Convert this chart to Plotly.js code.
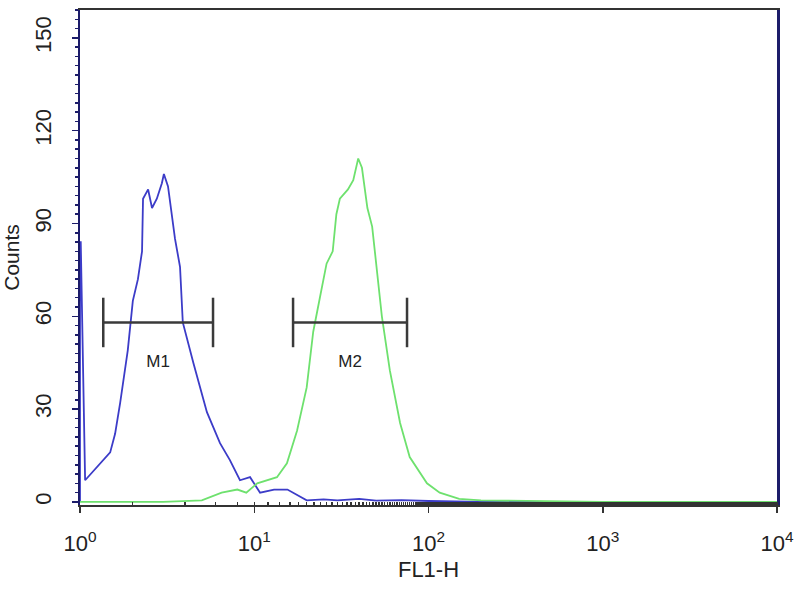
<!DOCTYPE html>
<html>
<head>
<meta charset="utf-8">
<script src="https://cdn.plot.ly/plotly-3.0.1.min.js"></script>
<style>html,body{margin:0;padding:0;background:#fff;}#chart{width:800px;height:600px;}</style>
</head>
<body>
<div id="chart"></div>
<script>
// Control (blue) histogram
const blueX = [1, 1, 1.01, 1.07, 1.49, 1.59, 1.70, 1.88, 2.01, 2.15, 2.27, 2.30, 2.46, 2.59, 2.76, 2.95, 3.03, 3.20, 3.51, 3.75, 3.89, 4.47, 5.35, 6.36, 7.25, 8.28, 9.46, 10.8, 13.0, 15.5, 18.0, 20.0, 25, 30, 40, 50, 70, 100, 200, 500, 1000, 10000];
const blueY = [0, 84, 84, 7, 16, 22, 32, 49, 65, 72, 81, 98, 101, 95, 98, 103, 106, 102, 85, 76, 58, 45, 29, 19, 13.5, 7, 8, 3, 4, 4, 2, 0.5, 0.8, 0.5, 1, 0.4, 0.6, 0.3, 0, 0, 0, 0];
// Stained (green) histogram
const greenX = [1, 3, 5, 6.5, 8, 9, 10.4, 13.5, 15.4, 17.6, 20, 21.8, 23.8, 26, 28.2, 29.6, 31, 34.5, 37, 39.5, 41.5, 44.6, 47.5, 50.5, 54, 60, 68.7, 78, 98, 116, 150, 200, 500, 1000, 10000];
const greenY = [0, 0, 0.5, 3, 4, 3, 6, 8, 12.5, 23, 37, 55, 66, 77, 81, 93, 98, 101, 104, 111, 108, 95, 89, 74, 60, 42.5, 25.5, 14.5, 6, 3, 1, 0.5, 0.3, 0, 0];
// Marker gates
const gateNames = ["M1", "M2"];
const gateLo = [1.36, 16.7];
const gateHi = [5.8, 75.3];
const gateY = 58;
const capHalf = 8;
const labelY = 45;
// Axis ticks
const xTickVals = [1, 10, 100, 1000, 10000];
const xTickText = ["10<sup>0</sup>", "10<sup>1</sup>", "10<sup>2</sup>", "10<sup>3</sup>", "10<sup>4</sup>"];
const yTickVals = [0, 30, 60, 90, 120, 150];

const FONT = 'Liberation Sans, Arial';
const traces = [
  {x: blueX, y: blueY, type: 'scatter', mode: 'lines', line: {color: 'rgb(60,60,200)', width: 1.8}, hoverinfo: 'skip'},
  {x: greenX, y: greenY, type: 'scatter', mode: 'lines', line: {color: 'rgb(110,225,110)', width: 1.8}, hoverinfo: 'skip'}
];
const gateColor = '#3a3a3a';
for (let i = 0; i < gateNames.length; i++) {
  traces.push({x: [gateLo[i], gateHi[i]], y: [gateY, gateY], type: 'scatter', mode: 'lines', line: {color: gateColor, width: 2.5}, hoverinfo: 'skip'});
  traces.push({x: [gateLo[i], gateLo[i]], y: [gateY - capHalf, gateY + capHalf], type: 'scatter', mode: 'lines', line: {color: gateColor, width: 2.5}, hoverinfo: 'skip'});
  traces.push({x: [gateHi[i], gateHi[i]], y: [gateY - capHalf, gateY + capHalf], type: 'scatter', mode: 'lines', line: {color: gateColor, width: 2.5}, hoverinfo: 'skip'});
  traces.push({x: [Math.sqrt(gateLo[i] * gateHi[i])], y: [labelY], type: 'scatter', mode: 'text', text: [gateNames[i]], textfont: {family: FONT, size: 17, color: '#222'}, hoverinfo: 'skip'});
}

const layout = {
  width: 800, height: 600,
  margin: {l: 80, r: 23, t: 10, b: 95},
  paper_bgcolor: '#fff', plot_bgcolor: '#fff',
  showlegend: false,
  xaxis: {
    type: 'log', range: [0, 4],
    tickvals: xTickVals, ticktext: xTickText,
    ticks: 'outside', ticklen: 6, tickwidth: 1.5, tickcolor: '#333',
    minor: {ticks: 'inside', ticklen: 3, tickwidth: 1.5, tickcolor: '#333', showgrid: false},
    showline: true, linecolor: '#333', linewidth: 2, mirror: true,
    showgrid: false, zeroline: false,
    tickfont: {family: FONT, size: 22, color: '#222'},
    ticklabelstandoff: 12,
    title: {text: 'FL1-H', font: {family: FONT, size: 22, color: '#222'}, standoff: 6}
  },
  yaxis: {
    range: [-1, 159],
    tickvals: yTickVals,
    tickangle: -90,
    ticks: 'outside', ticklen: 6, tickwidth: 1.5, tickcolor: '#1c1c6a',
    minor: {dtick: 3, ticks: 'outside', ticklen: 3, tickwidth: 1.5, tickcolor: '#1c1c6a', showgrid: false},
    showline: true, linecolor: '#1c1c6a', linewidth: 2.5, mirror: true,
    showgrid: false, zeroline: false,
    tickfont: {family: FONT, size: 22, color: '#222'},
    ticklabelstandoff: 12,
    title: {text: 'Counts', font: {family: FONT, size: 21, color: '#222'}, standoff: 8}
  }
};
Plotly.newPlot('chart', traces, layout, {staticPlot: true});
</script>
</body>
</html>
